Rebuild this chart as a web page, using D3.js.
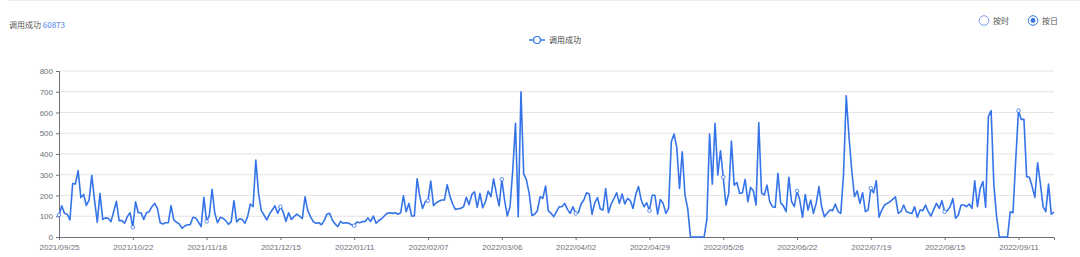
<!DOCTYPE html>
<html>
<head>
<meta charset="utf-8">
<script src="https://cdn.jsdelivr.net/npm/d3@7"></script>
<style>
  body { margin: 0; background: #fff; }
  text { font-family: "Noto Sans CJK SC", "Noto Sans", sans-serif; }
  .axis text { font-family: "Liberation Sans", Arial, sans-serif; }
</style>
</head>
<body>
<script>
// total shown in header
var totalLabel = "调用成功";
var totalValue = 60873;
var seriesName = "调用成功";
var startDate = "2021/09/25";

// daily success counts (2021/09/25 .. 2022/09/24)
var values = [
  106,150,114,110,82,258,255,320,190,205,152,178,297,178,71,210,85,92,90,74,
  122,172,79,79,66,98,117,47,170,117,117,85,117,122,146,162,138,69,63,69,
  69,151,82,71,63,42,53,59,59,95,92,72,50,191,75,104,230,114,69,95,
  90,79,61,74,175,72,88,85,66,98,159,146,371,210,127,106,82,110,130,150,
  114,146,122,75,117,85,98,110,101,88,194,127,98,74,66,69,59,79,110,114,
  82,63,50,75,66,69,66,59,55,72,69,74,75,92,75,101,66,79,88,101,
  114,117,114,117,110,117,199,122,162,101,101,281,194,138,170,175,270,151,165,172,
  178,178,252,197,159,133,136,138,146,191,156,204,218,143,210,141,170,221,194,281,
  210,150,278,178,101,146,323,548,98,700,304,275,210,104,110,127,194,186,246,127,
  114,98,122,146,146,162,133,114,146,114,117,159,178,213,207,109,165,190,135,130,
  233,117,159,185,213,162,207,159,186,175,138,205,243,178,146,165,127,201,201,110,
  181,162,114,138,459,496,432,234,411,202,138,0,0,0,0,0,0,85,496,255,
  548,299,416,288,154,210,462,250,262,210,213,278,170,239,223,154,551,213,202,250,
  170,146,143,307,165,150,122,288,170,146,222,178,95,205,130,178,114,162,243,146,
  98,114,130,127,159,122,114,300,680,484,323,194,222,162,213,122,130,235,213,271,
  95,130,154,162,170,181,194,114,122,154,122,117,114,146,95,130,127,154,122,101,
  133,162,138,175,122,127,146,186,90,106,154,154,146,159,138,271,146,235,267,143,
  580,609,250,98,0,0,0,0,122,117,371,609,567,567,291,288,243,191,358,259,
  146,122,255,110,120
];
var yTicks = [0, 100, 200, 300, 400, 500, 600, 700, 800];
var labelEvery = 27;
var switchLabels = ["按时", "按日"];

var width = 1080, height = 257;
var margin = {left: 59, right: 26, top: 71, bottom: 20};

var parse = d3.timeParse("%Y/%m/%d");
var fmt = d3.timeFormat("%Y/%m/%d");
var t0 = parse(startDate);
var dates = values.map(function(v, i) { return fmt(d3.timeDay.offset(t0, i)); });

var svg = d3.select("body").append("svg")
    .attr("width", width)
    .attr("height", height);

// card top border
svg.append("line")
    .attr("x1", 8).attr("x2", width).attr("y1", 0.5).attr("y2", 0.5)
    .attr("stroke", "#eeeeee");

var x = d3.scalePoint()
    .domain(dates)
    .range([margin.left, width - margin.right]);

var y = d3.scaleLinear()
    .domain([0, 800])
    .range([height - margin.bottom, margin.top]);

// grid
svg.append("g").selectAll("line")
    .data(yTicks.slice(1))
  .enter().append("line")
    .attr("x1", margin.left).attr("x2", width - margin.right)
    .attr("y1", function(d) { return y(d); }).attr("y2", function(d) { return y(d); })
    .attr("stroke", "#e4e4e4").attr("stroke-width", 1);

// y axis
var yAxis = svg.append("g")
    .attr("class", "axis")
    .attr("transform", "translate(" + margin.left + ",0)")
    .call(d3.axisLeft(y).tickValues(yTicks).tickSize(3).tickPadding(3));
yAxis.select(".domain").attr("stroke", "#6e7079");
yAxis.selectAll(".tick line").attr("stroke", "#6e7079");
yAxis.selectAll("text").attr("fill", "#6e7079").style("font-size", "8px");

// x axis
var shown = dates.filter(function(d, i) { return i % labelEvery == 0; });
var xAxis = svg.append("g")
    .attr("class", "axis")
    .attr("transform", "translate(0," + (height - margin.bottom) + ")")
    .call(d3.axisBottom(x).tickValues(shown).tickSize(3).tickPadding(4));
xAxis.select(".domain").attr("stroke", "#6e7079");
xAxis.selectAll(".tick line").attr("stroke", "#6e7079");
xAxis.selectAll("text").attr("fill", "#6e7079").style("font-size", "8px");

var blue = "#3574e8";

var line = d3.line()
    .x(function(d, i) { return x(dates[i]); })
    .y(function(d) { return y(d); });

svg.append("path")
    .datum(values)
    .attr("d", line)
    .attr("fill", "none")
    .attr("stroke", blue)
    .attr("stroke-width", 1.6)
    .attr("stroke-linejoin", "round");

// symbols shown at the label interval
svg.append("g").selectAll("circle")
    .data(values.map(function(v, i) { return [i, v]; }).filter(function(d) { return d[0] % labelEvery == 0; }))
  .enter().append("circle")
    .attr("cx", function(d) { return x(dates[d[0]]); })
    .attr("cy", function(d) { return y(d[1]); })
    .attr("r", 1.8)
    .attr("fill", "#fff")
    .attr("stroke", blue)
    .attr("stroke-width", 0.8);

// header total
var head = svg.append("text")
    .attr("x", 9).attr("y", 27.5)
    .style("font-size", "8px");
head.append("tspan").attr("fill", "#555").text(totalLabel + " ");
head.append("tspan").attr("fill", "#4a7be8").text(totalValue);

// legend
var lg = svg.append("g").attr("transform", "translate(537,40)");
lg.append("line").attr("x1", -8).attr("x2", 8).attr("stroke", blue).attr("stroke-width", 1.5);
lg.append("circle").attr("r", 3.5).attr("fill", "#fff").attr("stroke", blue).attr("stroke-width", 1.2);
lg.append("text").attr("x", 12).attr("y", 3).attr("fill", "#444").style("font-size", "8px").text(seriesName);

// granularity switch
var sw = svg.append("g").selectAll("g")
    .data(switchLabels)
  .enter().append("g")
    .attr("transform", function(d, i) { return "translate(" + (984 + i * 49) + ",20.5)"; });
sw.append("circle").attr("r", 4.8).attr("fill", "#fff")
    .attr("stroke", function(d, i) { return i == 1 ? blue : "#7a9ae8"; }).attr("stroke-width", 1);
sw.filter(function(d, i) { return i == 1; }).append("circle").attr("r", 2.4).attr("fill", blue);
sw.append("text").attr("x", 9).attr("y", 3).attr("fill", "#555").style("font-size", "8px")
    .text(function(d) { return d; });
</script>
</body>
</html>
